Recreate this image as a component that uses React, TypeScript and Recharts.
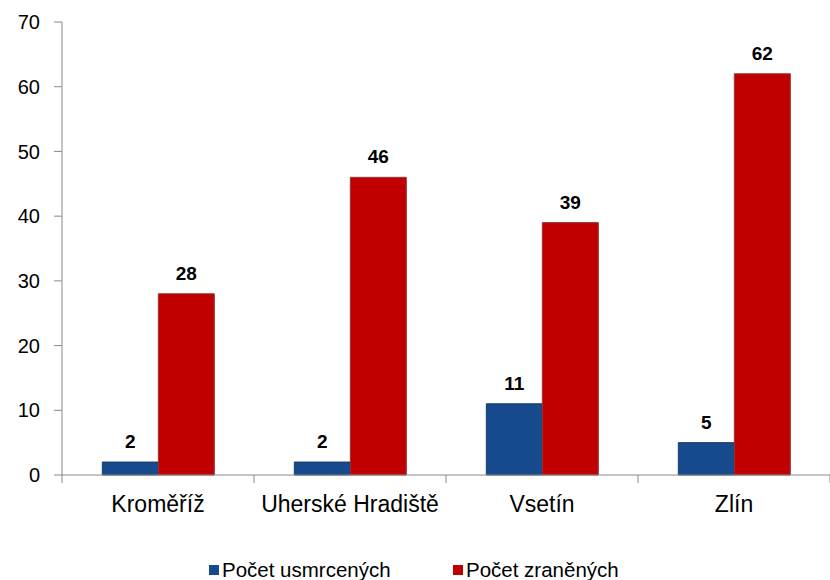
import React from 'react'
import {
    BarChart,
    Bar,
    XAxis,
    YAxis,
    Legend,
    LabelList
} from 'recharts'

const districts = ['Kroměříž', 'Uherské Hradiště', 'Vsetín', 'Zlín']
const killed = [2, 2, 11, 5]
const injured = [28, 46, 39, 62]
const yTicks = [0, 10, 20, 30, 40, 50, 60, 70]

const SERIES = [
    { key: 'killed', name: 'Počet usmrcených', color: '#174A8C', stroke: '#1a3a66' },
    { key: 'injured', name: 'Počet zraněných', color: '#C00000', stroke: '#8e3a3a' }
]

const data = districts.map((d, i) => ({
    district: d,
    killed: killed[i],
    injured: injured[i]
}))

const FONT = '"Liberation Sans", Arial, sans-serif'
const TICK_MARGIN = 21

// category label + tick marks on the category boundaries (Excel style)
function CategoryTick(props: any) {
    const { x, y, payload, index, width, visibleTicksCount } = props
    const band = width / visibleTicksCount
    const axisY = y - TICK_MARGIN
    const last = index === visibleTicksCount - 1
    return (
        <g>
            <line x1={x - band / 2} x2={x - band / 2} y1={axisY} y2={axisY + 8} stroke="#888" />
            {last && (
                <line x1={x + band / 2} x2={x + band / 2} y1={axisY} y2={axisY + 8} stroke="#888" />
            )}
            <text x={x} y={y} dy="0.71em" textAnchor="middle" fontSize={23} fill="#000" fontFamily={FONT}>
                {payload.value}
            </text>
        </g>
    )
}

function LegendContent() {
    return (
        <div style={{ display: 'flex', paddingLeft: 209, fontFamily: FONT, fontSize: 20.5, color: '#000', height: 20, alignItems: 'center' }}>
            {SERIES.map(s => (
                <div key={s.key} style={{ display: 'flex', alignItems: 'center', width: 244 }}>
                    <span style={{ display: 'inline-block', width: 10, height: 10, background: s.color, marginRight: 3 }} />
                    <span>{s.name}</span>
                </div>
            ))}
        </div>
    )
}

export default function App() {
    return (
        <div style={{ position: 'absolute', left: 0, top: 0, width: 830, height: 580, background: '#fff' }}>
            <BarChart
                width={830}
                height={580}
                data={data}
                margin={{ top: 22, right: 0, left: 0, bottom: 25 }}
                barCategoryGap="21%"
                barGap={0}
            >
                <XAxis
                    dataKey="district"
                    stroke="#888"
                    tickLine={false}
                    tickSize={0}
                    tickMargin={TICK_MARGIN}
                    height={60}
                    interval={0}
                    tick={<CategoryTick />}
                />
                <YAxis
                    domain={[0, 70]}
                    ticks={yTicks}
                    width={62}
                    stroke="#888"
                    tickSize={8}
                    tickMargin={14}
                    tick={{ fill: '#000', fontSize: 20, fontFamily: FONT }}
                />
                <Legend
                    verticalAlign="bottom"
                    height={20}
                    wrapperStyle={{ left: 0, bottom: 0, width: 830 }}
                    content={<LegendContent />}
                />
                {SERIES.map(s => (
                    <Bar
                        key={s.key}
                        dataKey={s.key}
                        name={s.name}
                        fill={s.color}
                        stroke={s.stroke}
                        strokeWidth={1}
                        isAnimationActive={false}
                    >
                        <LabelList
                            dataKey={s.key}
                            position="top"
                            offset={14}
                            fill="#000"
                            fontSize={19}
                            fontWeight="bold"
                            fontFamily={FONT}
                        />
                    </Bar>
                ))}
            </BarChart>
        </div>
    )
}
